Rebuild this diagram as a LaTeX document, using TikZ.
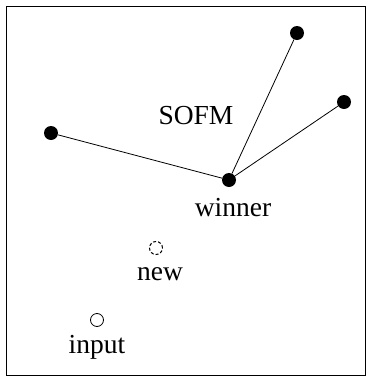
\documentclass[tikz,border=0pt]{standalone}
\usepackage{fontspec}
\setmainfont{Liberation Serif}
\begin{document}
\begin{tikzpicture}[x=1pt,y=-1pt,
  dot/.style={circle,fill=black,inner sep=0pt,minimum size=14pt},
  lbl/.style={font=\fontsize{27.5}{31}\selectfont,inner sep=0pt},
  link/.style={line width=0.8pt}]
\useasboundingbox (0,0) rectangle (369,381);
\draw[line width=0.9pt] (6,6) rectangle (365,375);
\node[dot] (l) at (51,133) {};
\node[dot] (t) at (297,33) {};
\node[dot] (r) at (344,102) {};
\node[dot] (w) at (229,180) {};
\node[circle,draw,dash pattern=on 3pt off 2pt,inner sep=0pt,minimum size=13pt,line width=1pt] (n) at (156,248) {};
\node[circle,draw,inner sep=0pt,minimum size=13pt,line width=0.8pt] (i) at (97,320) {};
\draw[link] (l) -- (w);
\draw[link] (t) -- (w);
\draw[link] (r) -- (w);
\node[lbl] (sofm) at (196,116) {SOFM};
\node[lbl] (wl) at (233,208) {winner};
\node[lbl] (nl) at (160,274) {new};
\node[lbl] (il) at (97,347) {input};
\end{tikzpicture}
\end{document}
